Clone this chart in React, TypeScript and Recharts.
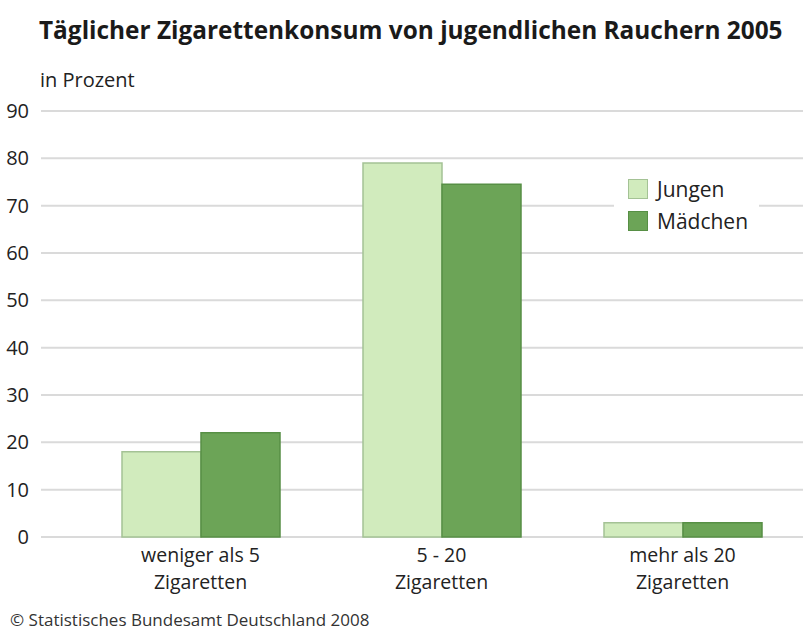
import React from 'react';
import { BarChart, Bar, XAxis, YAxis, CartesianGrid, Legend } from 'recharts';

const categories = ['weniger als 5\nZigaretten', '5 - 20\nZigaretten', 'mehr als 20\nZigaretten'];
const jungen = [18, 79, 3];
const maedchen = [22, 74.5, 3];
const yTicks = [0, 10, 20, 30, 40, 50, 60, 70, 80, 90];

const data = categories.map((name, i) => ({ name, jungen: jungen[i], maedchen: maedchen[i] }));

const FONT = '"Open Sans", sans-serif';
const TEXT = '#222';

const CategoryTick = ({ x, y, payload }: any) => {
  const lines = String(payload.value).split('\n');
  return (
    <text x={x} y={y} textAnchor="middle" fill={TEXT} fontSize={19.5} fontFamily={FONT}>
      {lines.map((l: string, i: number) => (
        <tspan key={i} x={x} dy={i === 0 ? 17 : 27}>{l}</tspan>
      ))}
    </text>
  );
};

const LegendBox = () => (
  <div style={{ background: '#fff', width: 145, padding: '5px 0 0 14px', boxSizing: 'border-box', height: 64, fontFamily: FONT, fontSize: 21, color: TEXT }}>
    {[
      { label: 'Jungen', fill: '#d1ebbd', stroke: '#a4c295' },
      { label: 'Mädchen', fill: '#6ca457', stroke: '#578f45' },
    ].map((it) => (
      <div key={it.label} style={{ display: 'flex', alignItems: 'center', height: 28, marginBottom: 4, lineHeight: '28px' }}>
        <span style={{ display: 'inline-block', width: 18, height: 18, background: it.fill, border: `1px solid ${it.stroke}`, marginRight: 9 }} />
        <span>{it.label}</span>
      </div>
    ))}
  </div>
);

export default function App() {
  return (
    <div style={{ position: 'absolute', left: 0, top: 0, width: 803, height: 634, background: '#fff', fontFamily: FONT }}>
      <div style={{ position: 'absolute', left: 39, top: 13, fontSize: 24.4, lineHeight: '34px', fontWeight: 700, color: '#1a1a1a', whiteSpace: 'nowrap' }}>
        Täglicher Zigarettenkonsum von jugendlichen Rauchern 2005
      </div>
      <div style={{ position: 'absolute', left: 40, top: 66, fontSize: 20, lineHeight: '28px', color: TEXT }}>in Prozent</div>
      <BarChart
        width={803}
        height={634}
        data={data}
        margin={{ top: 111, right: 0, left: 0, bottom: 0 }}
        barGap={0}
        barSize={79}
      >
        <CartesianGrid vertical={false} stroke="#dadada" strokeWidth={2} />
        <XAxis
          dataKey="name"
          axisLine={false}
          tickLine={false}
          height={97}
          padding={{ left: 39, right: 0 }}
          interval={0}
          tick={<CategoryTick />}
        />
        <YAxis
          domain={[0, 90]}
          ticks={yTicks}
          width={41}
          axisLine={false}
          tickLine={false}
          tick={{ fill: TEXT, fontSize: 20, fontFamily: FONT }}
          tickMargin={6}
        />
        <Legend
          verticalAlign="middle"
          align="center"
          layout="horizontal"
          content={<LegendBox />}
          wrapperStyle={{ position: 'absolute', left: 614, top: 170, width: 145 }}
        />
        <Bar dataKey="jungen" name="Jungen" fill="#d1ebbd" stroke="#a4c295" strokeWidth={1.5} isAnimationActive={false} />
        <Bar dataKey="maedchen" name="Mädchen" fill="#6ca457" stroke="#578f45" strokeWidth={1.5} isAnimationActive={false} />
      </BarChart>
      <div style={{ position: 'absolute', left: 10, top: 608, fontSize: 17, lineHeight: '24px', color: '#333', whiteSpace: 'nowrap' }}>
        © Statistisches Bundesamt Deutschland 2008
      </div>
    </div>
  );
}
